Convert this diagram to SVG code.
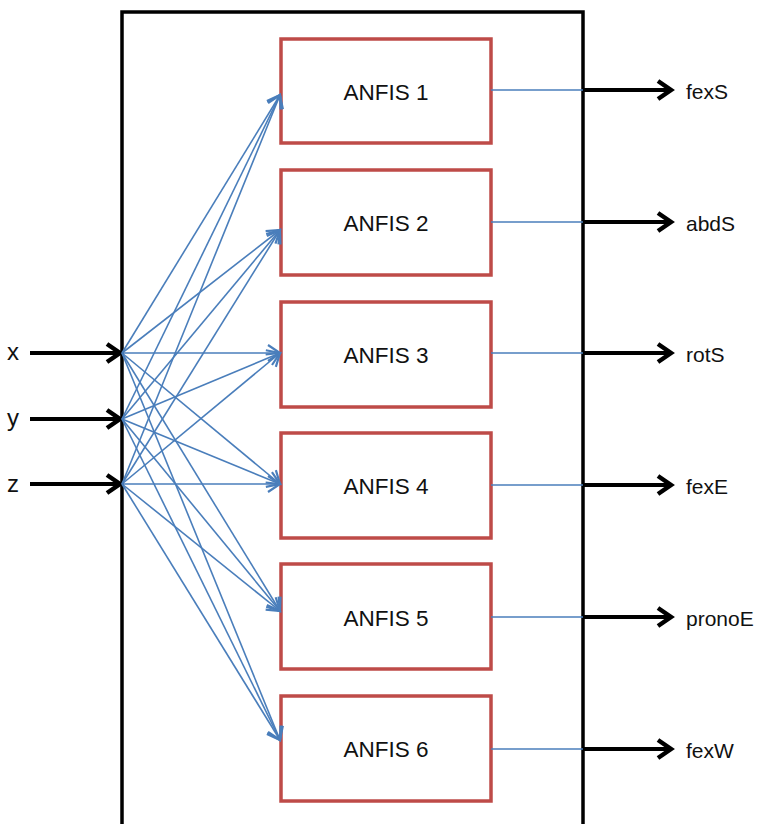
<svg xmlns="http://www.w3.org/2000/svg" width="761" height="824" viewBox="0 0 761 824">
<defs>
<marker id="ab" markerUnits="userSpaceOnUse" markerWidth="20" markerHeight="20" viewBox="-14 -10 16 20" refX="0" refY="0" orient="auto">
<path d="M-12,-8 L0,0 L-12,8" fill="none" stroke="#4a7ebb" stroke-width="2.2" stroke-linejoin="miter"/>
</marker>
<marker id="ak" markerUnits="userSpaceOnUse" markerWidth="24" markerHeight="24" viewBox="-18 -12 20 24" refX="0" refY="0" orient="auto">
<path d="M-14,-9 L-1,0 L-14,9" fill="none" stroke="#000" stroke-width="4.5" stroke-linejoin="miter"/>
</marker>
</defs>
<style>
.box{fill:#fff;stroke:#be4b48;stroke-width:3.5}
.lbl{font-family:"Liberation Sans",Arial,sans-serif;font-size:22.5px;fill:#111;text-anchor:middle}
.io{font-family:"Liberation Sans",Arial,sans-serif;font-size:21px;fill:#111}
.in{font-family:"Liberation Sans",Arial,sans-serif;font-size:24px;fill:#111}
.blue{stroke:#4a7ebb;stroke-width:1.6;fill:none;marker-end:url(#ab)}
.out{stroke:#4a7ebb;stroke-width:1.6;fill:none}
.blk{stroke:#000;stroke-width:4;fill:none;marker-end:url(#ak)}
</style>
<rect x="0" y="0" width="761" height="824" fill="#fff"/>
<g id="system">
<rect x="122" y="12" width="461" height="830" fill="#fff" stroke="#000" stroke-width="3.5"/>
</g>
<g id="anfis1"><rect class="box" x="281" y="39" width="210" height="104"/><text class="lbl" x="386" y="100">ANFIS 1</text></g>
<g id="anfis2"><rect class="box" x="281" y="170" width="210" height="105"/><text class="lbl" x="386" y="231">ANFIS 2</text></g>
<g id="anfis3"><rect class="box" x="281" y="302" width="210" height="105"/><text class="lbl" x="386" y="363">ANFIS 3</text></g>
<g id="anfis4"><rect class="box" x="281" y="433" width="210" height="105"/><text class="lbl" x="386" y="494">ANFIS 4</text></g>
<g id="anfis5"><rect class="box" x="281" y="564" width="210" height="105"/><text class="lbl" x="386" y="626">ANFIS 5</text></g>
<g id="anfis6"><rect class="box" x="281" y="696" width="210" height="105"/><text class="lbl" x="386" y="757">ANFIS 6</text></g>
<g id="inputs">
<text class="in" x="7" y="360">x</text>
<text class="in" x="7" y="426">y</text>
<text class="in" x="7" y="492">z</text>
</g>
<g id="outputs">
<text class="io" x="686" y="99">fexS</text>
<text class="io" x="686" y="231">abdS</text>
<text class="io" x="686" y="362">rotS</text>
<text class="io" x="686" y="494">fexE</text>
<text class="io" x="686" y="626">pronoE</text>
<text class="io" x="686" y="758">fexW</text>
</g>
<g id="connectors">
<path class="blk" d="M30,353 H121"/>
<path class="blk" d="M30,419 H121"/>
<path class="blk" d="M30,484 H121"/>
<path class="blue" d="M122,353 L280,95"/>
<path class="blue" d="M122,353 L280,230"/>
<path class="blue" d="M122,353 L280,353"/>
<path class="blue" d="M122,353 L280,484"/>
<path class="blue" d="M122,353 L280,611"/>
<path class="blue" d="M122,353 L280,740"/>
<path class="blue" d="M122,419 L280,95"/>
<path class="blue" d="M122,419 L280,230"/>
<path class="blue" d="M122,419 L280,353"/>
<path class="blue" d="M122,419 L280,484"/>
<path class="blue" d="M122,419 L280,611"/>
<path class="blue" d="M122,419 L280,740"/>
<path class="blue" d="M122,484 L280,95"/>
<path class="blue" d="M122,484 L280,230"/>
<path class="blue" d="M122,484 L280,353"/>
<path class="blue" d="M122,484 L280,484"/>
<path class="blue" d="M122,484 L280,611"/>
<path class="blue" d="M122,484 L280,740"/>
<path class="out" d="M491,90 H583"/>
<path class="out" d="M491,222 H583"/>
<path class="out" d="M491,353 H583"/>
<path class="out" d="M491,485 H583"/>
<path class="out" d="M491,617 H583"/>
<path class="out" d="M491,749 H583"/>
<path class="blk" d="M584,90 H672"/>
<path class="blk" d="M584,222 H672"/>
<path class="blk" d="M584,353 H672"/>
<path class="blk" d="M584,485 H672"/>
<path class="blk" d="M584,617 H672"/>
<path class="blk" d="M584,749 H672"/>
</g>
</svg>
